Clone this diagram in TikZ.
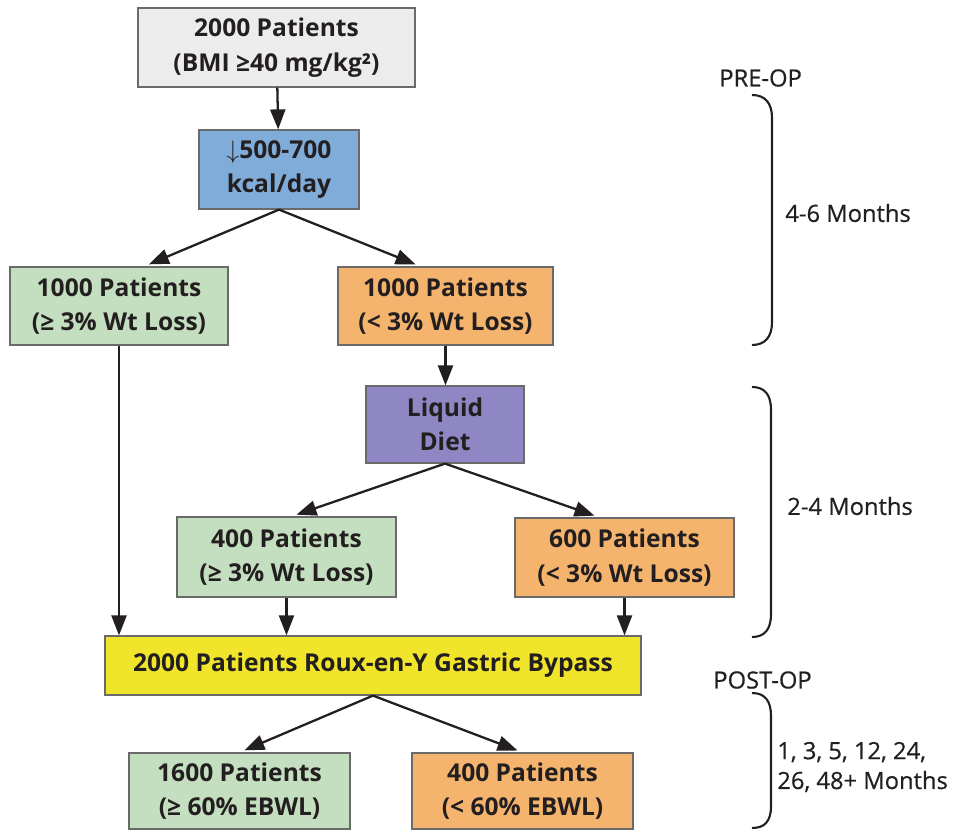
\documentclass[tikz,border=0pt]{standalone}
\usepackage{fontspec}
\setmainfont{Open Sans}
\newfontfamily\periodfont[FakeBold=0.6]{Open Sans}
\usetikzlibrary{arrows.meta}

\definecolor{ink}{HTML}{231F20}
\definecolor{boxline}{HTML}{6A6A6A}
\definecolor{startgray}{HTML}{ECECEC}
\definecolor{dietblue}{HTML}{80ACDA}
\definecolor{lossgreen}{HTML}{C4DFBF}
\definecolor{failorange}{HTML}{F5B46E}
\definecolor{liquidviolet}{HTML}{8F87C3}
\definecolor{surgyellow}{HTML}{F0E52A}

\begin{document}
\begin{tikzpicture}[x=0.02cm, y=-0.02cm,
    box/.style={draw=boxline, line width=0.7pt, inner sep=0pt, align=center, text=ink,
        font=\bfseries\fontsize{14}{19.5}\selectfont},
    flow/.style={draw=ink, line width=1.3pt, -{Triangle[length=0.4cm, width=0.3cm]}},
    brace/.style={draw=ink, line width=1.2pt},
    period/.style={text=ink, inner sep=0pt, align=left, anchor=west,
        font=\periodfont\fontsize{13.5}{17}\selectfont}]
    \useasboundingbox (0,0) rectangle (966,830);

    % Pre-op boxes
    \node[box, fill=startgray, minimum width=5.54cm, minimum height=1.58cm] (start) at (276.5,47.5)
        {2000 Patients\\(BMI ≥40 mg/kg²)};
    \node[box, fill=dietblue, minimum width=3.2cm, minimum height=1.58cm] (kcal) at (279,169.5)
        {$\downarrow$500-700\\kcal/day};
    \node[box, fill=lossgreen, minimum width=4.36cm, minimum height=1.56cm] (lossA) at (119,306)
        {1000 Patients\\(≥ 3\% Wt Loss)};
    \node[box, fill=failorange, minimum width=4.3cm, minimum height=1.56cm] (failA) at (445.5,306)
        {1000 Patients\\(< 3\% Wt Loss)};
    \node[box, fill=liquidviolet, minimum width=3.16cm, minimum height=1.54cm] (liquid) at (445,424.5)
        {Liquid\\Diet};
    \node[box, fill=lossgreen, minimum width=4.38cm, minimum height=1.6cm] (lossB) at (286.5,557)
        {400 Patients\\(≥ 3\% Wt Loss)};
    \node[box, fill=failorange, minimum width=4.38cm, minimum height=1.58cm] (failB) at (624.5,557.5)
        {600 Patients\\(< 3\% Wt Loss)};

    % Surgery
    \node[box, fill=surgyellow, minimum width=10.72cm, minimum height=1.18cm] (rygb) at (373,665.5)
        {2000 Patients Roux-en-Y Gastric Bypass};

    % Post-op boxes
    \node[box, fill=lossgreen, minimum width=4.42cm, minimum height=1.52cm] (lossC) at (239.5,791)
        {1600 Patients\\(≥ 60\% EBWL)};
    \node[box, fill=failorange, minimum width=4.42cm, minimum height=1.52cm] (failC) at (522.5,791)
        {400 Patients\\(< 60\% EBWL)};

    % Arrows
    \draw[flow] (start) -- (kcal);
    \draw[flow, shorten >=3pt] (kcal.south) -- ([xshift=0.5cm]lossA.north);
    \draw[flow, shorten >=3pt] (kcal.south) -- ([xshift=-0.5cm]failA.north);
    \draw[flow] (failA) -- (failA |- liquid.north);
    \draw[flow, shorten >=3pt] (liquid.south) -- ([xshift=0.1cm]lossB.north);
    \draw[flow, shorten >=3pt] (liquid.south) -- ([xshift=-0.5cm]failB.north);
    \draw[flow] (lossA.south) -- (lossA.south |- rygb.north);
    \draw[flow] (lossB) -- (lossB |- rygb.north);
    \draw[flow] (failB) -- (failB |- rygb.north);
    \draw[flow, shorten >=3pt] (rygb.south) -- (lossC.north);
    \draw[flow, shorten >=3pt] (rygb.south) -- (failC.north);

    % Braces
    \draw[brace] (752,95) .. controls (765,95) and (772,103) .. (772,118)
        -- (772,322) .. controls (772,337) and (765,345) .. (752,345);
    \draw[brace] (752,387) .. controls (765,387) and (771,395) .. (771,410)
        -- (771,614) .. controls (771,629) and (765,637) .. (752,637);
    \draw[brace] (752,693) .. controls (765,693) and (771,701) .. (771,716)
        -- (771,806) .. controls (771,821) and (765,828) .. (752,828);

    % Period labels
    \node[period] (preop) at (719,78) {PRE-OP};
    \node[period] (monthsA) at (785,213) {4-6 Months};
    \node[period] (monthsB) at (787,506) {2-4 Months};
    \node[period] (postop) at (713,680) {POST-OP};
    \node[period] (monthsC) at (777,767) {1, 3, 5, 12, 24,\\26, 48+ Months};
\end{tikzpicture}
\end{document}
